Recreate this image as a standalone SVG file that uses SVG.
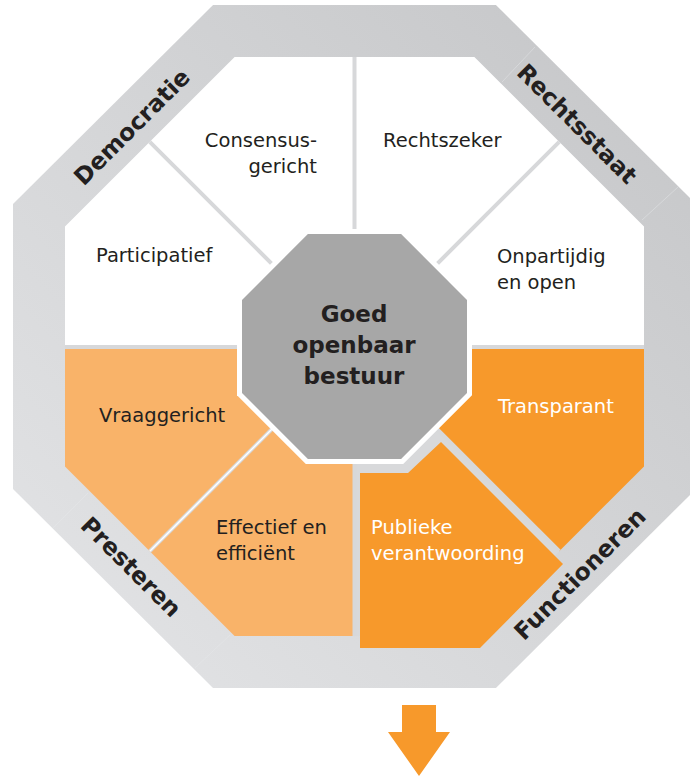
<svg xmlns="http://www.w3.org/2000/svg" width="690" height="778" viewBox="0 0 690 778">
<defs>
<linearGradient id="band" x1="1" y1="0" x2="0" y2="1">
<stop offset="0" stop-color="#c4c5c7"/>
<stop offset="1" stop-color="#e4e5e7"/>
</linearGradient>
<style>
.lbl{font-family:"DejaVu Sans",sans-serif;font-weight:bold;font-size:23.5px;fill:#231f20;text-anchor:middle}
.t{font-family:"DejaVu Sans",sans-serif;font-size:19.5px;fill:#231f20}
.w{fill:#ffffff}
.c{font-family:"DejaVu Sans",sans-serif;font-weight:bold;font-size:23px;fill:#231f20;text-anchor:middle}
.div{stroke:#d7d8da;stroke-width:4;fill:none}
.faint{stroke:#e6e7e9;stroke-width:1;fill:none;opacity:0.5}
.white{fill:#ffffff}
.lo{fill:#f9b369}
.do{fill:#f7992b}
</style>
</defs>
<rect width="690" height="778" fill="#ffffff"/>
<g id="band-ring">
<polygon points="213.05,5 495.95,5 696,204.05 696,488.95 495.95,688 213.05,688 13,488.95 13,204.05" fill="url(#band)"/>
<line class="faint" x1="502" y1="82" x2="535" y2="47"/>
<line class="faint" x1="642" y1="220" x2="678" y2="187"/>
<line class="faint" x1="53" y1="528" x2="88" y2="493"/>
<line class="faint" x1="195" y1="668" x2="230" y2="635"/>
</g>
<g id="democratie"><text class="lbl" transform="translate(132,127) rotate(-45)" y="8">Democratie</text></g>
<g id="rechtsstaat"><text class="lbl" transform="translate(577,124) rotate(45)" y="8">Rechtsstaat</text></g>
<g id="presteren"><text class="lbl" transform="translate(131,567) rotate(45)" y="8">Presteren</text></g>
<g id="functioneren"><text class="lbl" transform="translate(580,574) rotate(-45)" y="8">Functioneren</text></g>
<g id="participatief">
<polygon class="white" points="65,346.5 65,226.6 149.8,141.8 354.5,346.5"/>
<text class="t" x="96" y="262">Participatief</text>
</g>
<g id="consensusgericht">
<polygon class="white" points="149.8,141.8 234.6,57 354.5,57 354.5,346.5"/>
<text class="t" x="317" y="147" text-anchor="end">Consensus-</text>
<text class="t" x="317" y="173" text-anchor="end">gericht</text>
</g>
<g id="rechtszeker">
<polygon class="white" points="354.5,57 474.4,57 559.2,141.8 354.5,346.5"/>
<text class="t" x="383" y="147">Rechtszeker</text>
</g>
<g id="onpartijdig">
<polygon class="white" points="559.2,141.8 644,226.6 644,346.5 354.5,346.5"/>
<text class="t" x="497" y="263">Onpartijdig</text>
<text class="t" x="497" y="289">en open</text>
</g>
<g id="vraaggericht">
<polygon class="lo" points="65,346.5 65,466.4 149.8,551.2 354.5,346.5"/>
<text class="t" x="99" y="422">Vraaggericht</text>
</g>
<g id="effectief">
<polygon class="lo" points="149.8,551.2 234.6,636 354.5,636 354.5,346.5"/>
<text class="t" x="216" y="534">Effectief en</text>
<text class="t" x="216" y="560">efficiënt</text>
</g>
<g id="transparant">
<polygon class="do" points="559.2,551.2 644,466.4 644,346.5 354.5,346.5"/>
<text class="t w" x="498" y="413">Transparant</text>
</g>
<g id="connectors">
<line class="div" x1="65" y1="347" x2="644" y2="347"/>
<line class="div" x1="354.5" y1="57" x2="354.5" y2="346.5"/>
<line class="div" x1="149.8" y1="141.8" x2="354.5" y2="346.5"/>
<line class="div" x1="559.2" y1="141.8" x2="354.5" y2="346.5"/>
<line class="div" x1="149.8" y1="551.2" x2="354.5" y2="346.5"/>
<line x1="149.8" y1="551.2" x2="354.5" y2="346.5" stroke="#ffffff" stroke-width="1.5"/>
<polygon points="354.5,636 474.4,636 559.2,551.2 354.5,346.5" fill="#d8d9db"/>
<line class="div" x1="354.5" y1="636" x2="354.5" y2="346.5"/>
<line class="div" x1="559.2" y1="551.2" x2="354.5" y2="346.5" stroke-width="6"/>
</g>
<g id="publieke">
<polygon class="do" points="360,473 408,473 441,442 563,564 480,648 360,648"/>
<text class="t w" x="371" y="534">Publieke</text>
<text class="t w" x="371" y="560">verantwoording</text>
</g>
<g id="center">
<polygon fill="#ffffff" points="305.8,229 403.2,229 472,297.8 472,395.2 403.2,464 305.8,464 237,395.2 237,297.8"/>
<polygon fill="#a7a7a7" points="307.9,234 401.1,234 467,299.9 467,393.1 401.1,459 307.9,459 242,393.1 242,299.9"/>
<text class="c" x="354" y="322">Goed</text>
<text class="c" x="354" y="353">openbaar</text>
<text class="c" x="354" y="384">bestuur</text>
</g>
<g id="arrow">
<polygon class="do" points="402,705 436,705 436,732 450,732 419,776 388,732 402,732"/>
</g>
</svg>
